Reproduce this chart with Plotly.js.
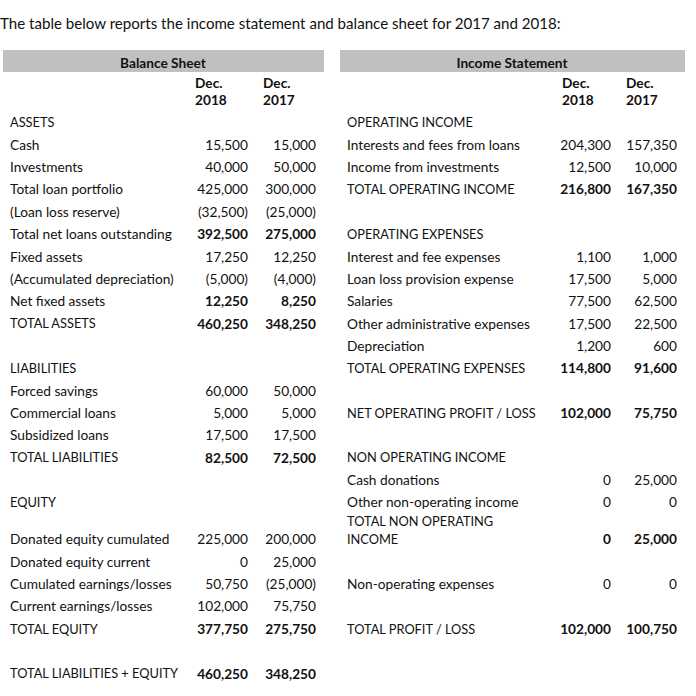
<!DOCTYPE html>
<html><head><meta charset="utf-8">
<script src="https://cdn.plot.ly/plotly-3.0.1.min.js"></script>
<style>html,body{margin:0;padding:0;background:#fff}#chart{width:696px;height:696px}</style>
</head><body><div id="chart"></div>
<script>
const titleText = "The table below reports the income statement and balance sheet for 2017 and 2018:";
const sectionTitles = ["Balance Sheet", "Income Statement"];
const colHeadTop = ["Dec.", "Dec."];
const colHeadBottom = ["2018", "2017"];

const bsLabels = ["ASSETS","Cash","Investments","Total loan portfolio","(Loan loss reserve)","Total net loans outstanding","Fixed assets","(Accumulated depreciation)","Net fixed assets","TOTAL ASSETS","","LIABILITIES","Forced savings","Commercial loans","Subsidized loans","TOTAL LIABILITIES","","EQUITY","Donated equity cumulated","Donated equity current","Cumulated earnings/losses","Current earnings/losses","TOTAL EQUITY","","TOTAL LIABILITIES + EQUITY"];
const bs2018 = [null,15500,40000,425000,-32500,392500,17250,-5000,12250,460250,null,null,60000,5000,17500,82500,null,null,225000,0,50750,102000,377750,null,460250];
const bs2017 = [null,15000,50000,300000,-25000,275000,12250,-4000,8250,348250,null,null,50000,5000,17500,72500,null,null,200000,25000,-25000,75750,275750,null,348250];
const bsBoldRows = ["Total net loans outstanding","Net fixed assets","TOTAL ASSETS","TOTAL LIABILITIES","TOTAL EQUITY","TOTAL LIABILITIES + EQUITY"];

const isLabels = ["OPERATING INCOME","Interests and fees from loans","Income from investments","TOTAL OPERATING INCOME","","OPERATING EXPENSES","Interest and fee expenses","Loan loss provision expense","Salaries","Other administrative expenses","Depreciation","TOTAL OPERATING EXPENSES","","NET OPERATING PROFIT / LOSS","","NON OPERATING INCOME","Cash donations","Other non-operating income","TOTAL NON OPERATING\nINCOME","","Non-operating expenses","","TOTAL PROFIT / LOSS"];
const is2018 = [null,204300,12500,216800,null,null,1100,17500,77500,17500,1200,114800,null,102000,null,null,0,0,0,null,0,null,102000];
const is2017 = [null,157350,10000,167350,null,null,1000,5000,62500,22500,600,91600,null,75750,null,null,25000,0,25000,null,0,null,100750];
const isBoldRows = ["TOTAL OPERATING INCOME","TOTAL OPERATING EXPENSES","NET OPERATING PROFIT / LOSS","TOTAL NON OPERATING\nINCOME","TOTAL PROFIT / LOSS"];

// ---- layout constants ----
const FONT = "Lato, 'Open Sans', sans-serif";
const TXT = "#111111";
const BODY = 13.7, CAPS = 12.8, TITLE = 15.1;
const dy = 3; // text baseline correction
const rowTop = 121, rowStep = 22.35, tallRow = 18, tallExtra = 14.7, lineStep = 18;
function rowY(i){ return rowTop + rowStep*i + (i >= tallRow ? tallExtra : 0); }
function fmt(v){
  if (v === null || v === undefined) return "";
  const s = Math.abs(v).toLocaleString("en-US");
  return v < 0 ? "(" + s + ")" : s;
}

const pts = [];
function add(x, y, text, pos, bold, size){ pts.push({x, y: y + dy, text, pos, bold: !!bold, size: size || BODY}); }

function addSection(labels, v1, v2, boldRows, labelX, col1X, col2X){
  labels.forEach((lab, i) => {
    const y = rowY(i);
    if (lab) {
      const lines = lab.split("\n");
      lines.forEach((ln, k) => {
        const caps = ln === ln.toUpperCase();
        add(labelX, y - (lines.length-1-k)*lineStep, ln, "middle right", false, caps ? CAPS : BODY);
      });
    }
    const b = boldRows.includes(lab);
    if (v1[i] !== null) add(col1X, y, fmt(v1[i]), "middle left", b);
    if (v2[i] !== null) add(col2X, y, fmt(v2[i]), "middle left", b);
  });
}
addSection(bsLabels, bs2018, bs2017, bsBoldRows, 10, 248, 316);
addSection(isLabels, is2018, is2017, isBoldRows, 347, 611, 677);

// headers
add(0, 22, titleText, "middle right", false, TITLE);
add(163, 62, sectionTitles[0], "middle center", true);
add(512, 62, sectionTitles[1], "middle center", true);
[[195,263],[562,626]].forEach(xs => {
  xs.forEach((x, j) => {
    add(x, 82, colHeadTop[j], "middle right", true);
    add(x, 99, colHeadBottom[j], "middle right", true);
  });
});

// group into traces
const groups = {};
pts.forEach(p => {
  const key = p.pos + "|" + p.bold + "|" + p.size;
  (groups[key] = groups[key] || {x:[], y:[], text:[], pos:p.pos, bold:p.bold, size:p.size});
  groups[key].x.push(p.x); groups[key].y.push(p.y); groups[key].text.push(p.text);
});
const traces = Object.values(groups).map(g => ({
  type: "scatter", mode: "text", x: g.x, y: g.y, text: g.text,
  textposition: g.pos, cliponaxis: false, hoverinfo: "skip", showlegend: false,
  textfont: {family: FONT, size: g.size, color: TXT, weight: g.bold ? 700 : 400}
}));

const layout = {
  width: 696, height: 696,
  margin: {l:0, r:0, t:0, b:0},
  paper_bgcolor: "#ffffff", plot_bgcolor: "#ffffff",
  xaxis: {range: [0, 696], visible: false, fixedrange: true},
  yaxis: {range: [696, 0], visible: false, fixedrange: true},
  shapes: [
    {type:"rect", xref:"x", yref:"y", x0:3, x1:324, y0:50, y1:72, fillcolor:"#c0c0c0", line:{width:0}, layer:"below"},
    {type:"rect", xref:"x", yref:"y", x0:340, x1:685, y0:50, y1:72, fillcolor:"#c0c0c0", line:{width:0}, layer:"below"}
  ]
};
Plotly.newPlot("chart", traces, layout, {staticPlot: true, displayModeBar: false});
</script>
</body></html>
